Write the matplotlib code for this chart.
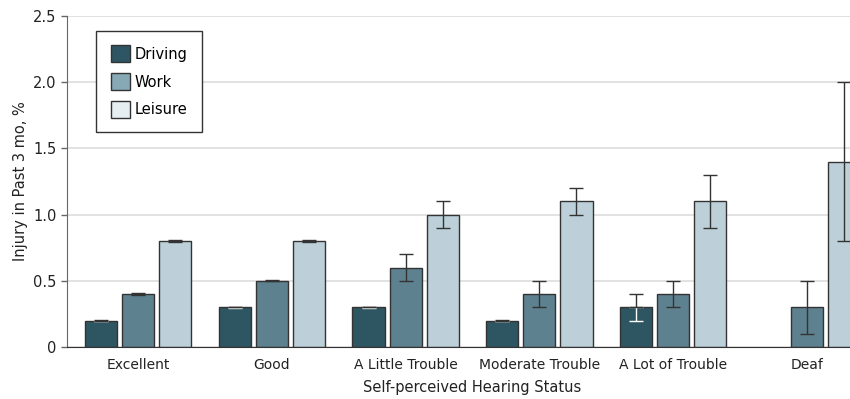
import matplotlib
matplotlib.use("Agg")
import matplotlib.pyplot as plt
import numpy as np
from matplotlib.patches import Patch

plt.rcParams['font.family'] = ['Liberation Sans Narrow', 'DejaVu Sans']

categories = ['Excellent', 'Good', 'A Little Trouble', 'Moderate Trouble',
              'A Lot of Trouble', 'Deaf']
driving = [0.2, 0.3, 0.3, 0.2, 0.3, np.nan]
driving_lo = [0.195, 0.295, 0.295, 0.195, 0.2, np.nan]
driving_hi = [0.205, 0.305, 0.305, 0.205, 0.4, np.nan]
work = [0.4, 0.5, 0.6, 0.4, 0.4, 0.3]
work_lo = [0.395, 0.495, 0.5, 0.3, 0.3, 0.1]
work_hi = [0.405, 0.505, 0.7, 0.5, 0.5, 0.5]
leisure = [0.8, 0.8, 1.0, 1.1, 1.1, 1.4]
leisure_lo = [0.795, 0.795, 0.9, 1.0, 0.9, 0.8]
leisure_hi = [0.805, 0.805, 1.1, 1.2, 1.3, 2.0]

bar_colors = ['#2d5562', '#5e8190', '#bdd0d9']
legend_colors = ['#2e5563', '#87a9b6', '#e6eef1']
edge = '#333333'

fig = plt.figure(figsize=(8.5, 3.99), dpi=100)
ax = fig.add_axes([67 / 850, 52 / 399, 811 / 850, 331 / 399])

x = np.arange(len(categories))
w = 0.24
step = 0.277

series = [(driving, driving_lo, driving_hi), (work, work_lo, work_hi),
          (leisure, leisure_lo, leisure_hi)]
for i, (vals, lo, hi) in enumerate(series):
    vals = np.array(vals)
    xs = x + (i - 1) * step
    ok = ~np.isnan(vals)
    ax.bar(xs[ok], vals[ok], width=w, color=bar_colors[i], edgecolor=edge,
           linewidth=1.0, zorder=2)
    lower = vals - np.array(lo)
    upper = np.array(hi) - vals
    if i == 0:
        # part of the error bar inside the dark bar is drawn white
        ax.errorbar(xs[ok], vals[ok], yerr=[lower[ok], np.zeros(ok.sum())],
                    fmt='none', ecolor='white', elinewidth=1, capsize=4.7,
                    capthick=1, zorder=3)
        ax.errorbar(xs[ok], vals[ok], yerr=[np.zeros(ok.sum()), upper[ok]],
                    fmt='none', ecolor=edge, elinewidth=1, capsize=4.7,
                    capthick=1, zorder=3)
    else:
        ax.errorbar(xs[ok], vals[ok], yerr=[lower[ok], upper[ok]],
                    fmt='none', ecolor=edge, elinewidth=1, capsize=4.7,
                    capthick=1, zorder=3)

ax.set_xlim(-0.53, 5.53)
ax.set_ylim(0, 2.5)
ax.set_yticks([0, 0.5, 1.0, 1.5, 2.0, 2.5])
ax.set_yticklabels(['0', '0.5', '1.0', '1.5', '2.0', '2.5'])
ax.set_xticks(x)
ax.set_xticklabels(categories)
ax.tick_params(axis='x', length=0, pad=8, labelsize=10, colors='#222222')
ax.tick_params(axis='y', length=4, width=1, color='#666666', labelsize=10.5,
               colors='#222222')
ax.grid(axis='y', color='#dddddd', linewidth=1.2, zorder=0)
ax.set_axisbelow(True)
for s in ['top', 'right']:
    ax.spines[s].set_visible(False)
ax.spines['left'].set_color('#666666')
ax.spines['bottom'].set_color('#333333')

ax.set_ylabel('Injury in Past 3 mo, %', fontsize=10.5, color='#222222')
ax.set_xlabel('Self-perceived Hearing Status', fontsize=10.5, color='#222222',
              labelpad=6)

handles = [Patch(facecolor=c, edgecolor=edge, linewidth=1) for c in legend_colors]
leg = ax.legend(handles, ['Driving', 'Work', 'Leisure'], loc='upper left',
                bbox_to_anchor=(0.036, 0.955), borderaxespad=0, fancybox=False,
                edgecolor='#333333', framealpha=1, fontsize=10.5,
                handlelength=1.3, handleheight=1.4, handletextpad=0.35,
                labelspacing=0.75, borderpad=1.0)
leg.get_frame().set_linewidth(1)

fig.savefig('out.png', dpi=100)
